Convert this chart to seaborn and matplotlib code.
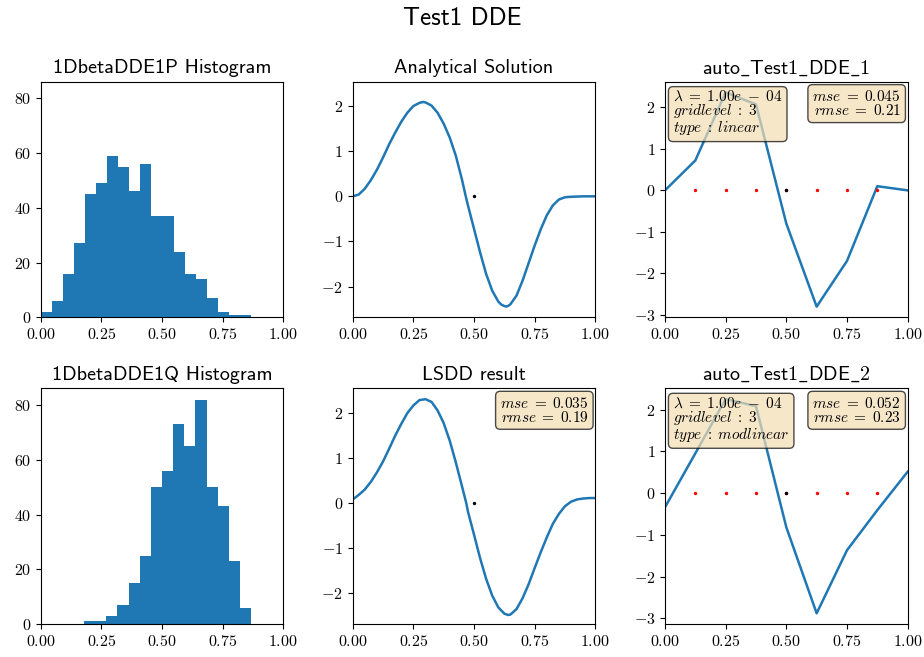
import numpy as np
import pandas as pd
import matplotlib
matplotlib.use("Agg")
import matplotlib.pyplot as plt
import seaborn as sns
from matplotlib.mathtext import MathTextParser

plt.rcParams['mathtext.fontset'] = 'cm'
plt.rcParams['axes.formatter.use_mathtext'] = True
plt.rcParams['font.family'] = ['cmr10', 'DejaVu Sans']
plt.rcParams['axes.unicode_minus'] = True

# ---------------- data ----------------
hist_p_counts = [2, 6, 16, 27, 45, 49, 59, 55, 46, 56, 37, 37, 24, 16, 14, 7, 2, 1, 1]
hist_p_range = [0.0, 0.867]
hist_q_counts = [1, 1, 3, 7, 15, 25, 50, 56, 73, 65, 82, 50, 43, 23, 6]
hist_q_range = [0.179, 0.867]

analytic_x = [0.0, 0.025, 0.05, 0.075, 0.1, 0.125, 0.15, 0.175, 0.2, 0.225, 0.25, 0.275,
              0.29, 0.3, 0.325, 0.35, 0.375, 0.4, 0.425, 0.45, 0.466, 0.475, 0.5, 0.525,
              0.55, 0.575, 0.6, 0.613, 0.625, 0.632, 0.64, 0.65, 0.675, 0.7, 0.725, 0.75,
              0.775, 0.8, 0.825, 0.85, 0.875, 0.9, 0.95, 1.0]
analytic_y = [0.0, 0.04, 0.17, 0.36, 0.59, 0.86, 1.15, 1.41, 1.65, 1.85, 2.0, 2.07,
              2.09, 2.08, 2.01, 1.85, 1.61, 1.3, 0.9, 0.38, 0.0, -0.2, -0.72, -1.24,
              -1.72, -2.09, -2.33, -2.40, -2.43, -2.44, -2.43, -2.39, -2.2, -1.87, -1.48, -1.09,
              -0.73, -0.42, -0.2, -0.07, -0.02, -0.01, 0.0, 0.0]

lsdd_x = [0.0, 0.025, 0.05, 0.075, 0.1, 0.125, 0.15, 0.175, 0.2, 0.225, 0.25, 0.275,
          0.3, 0.325, 0.35, 0.375, 0.4, 0.425, 0.45, 0.468, 0.475, 0.5, 0.525, 0.55,
          0.575, 0.6, 0.625, 0.64, 0.65, 0.675, 0.7, 0.725, 0.75, 0.775, 0.8, 0.825,
          0.85, 0.875, 0.9, 0.925, 0.95, 0.975, 1.0]
lsdd_y = [0.08, 0.18, 0.30, 0.47, 0.68, 0.92, 1.20, 1.49, 1.75, 1.99, 2.16, 2.28,
          2.30, 2.24, 2.05, 1.77, 1.38, 0.90, 0.38, 0.0, -0.19, -0.70, -1.22, -1.68,
          -2.05, -2.31, -2.45, -2.48, -2.47, -2.35, -2.11, -1.80, -1.44, -1.09, -0.76, -0.46,
          -0.24, -0.07, 0.03, 0.08, 0.10, 0.11, 0.11]

grid_x = [0.0, 0.125, 0.25, 0.375, 0.5, 0.625, 0.75, 0.875, 1.0]
auto1_y = [0.0, 0.72, 2.36, 2.07, -0.80, -2.80, -1.70, 0.10, 0.0]
auto2_y = [-0.34, 0.95, 2.25, 2.08, -0.82, -2.88, -1.37, -0.41, 0.51]

grid_pts_x = [0.125, 0.25, 0.375, 0.5, 0.625, 0.75, 0.875]
grid_pts_y = [0, 0, 0, 0, 0, 0, 0]
center_x = [0.5]
center_y = [0]

lsdd_err = ["0.035", "0.19"]
auto1_err = ["0.045", "0.21"]
auto2_err = ["0.052", "0.23"]
auto1_info = ["1.00e-04", "3", "linear"]
auto2_info = ["1.00e-04", "3", "modlinear"]

titles = ["1DbetaDDE1P Histogram", "Analytical Solution", "auto_Test1_DDE_1",
          "1DbetaDDE1Q Histogram", "LSDD result", "auto_Test1_DDE_2"]
suptitle = "Test1 DDE"

BLUE = '#1f77b4'
TITLE_FONT = ['cmss10', 'DejaVu Sans']

# check whether mathtext can typeset an underscore in sans
_use_math_us = True
try:
    MathTextParser('agg').parse(r'$\mathsf{a\_b}$', 72)
except Exception:
    _use_math_us = False


def title_text(s):
    if '_' in s and _use_math_us:
        return r'$\mathsf{' + s.replace('_', r'\_') + '}$'
    return s


fig = plt.figure(figsize=(9.24, 6.57), dpi=100)
L = [0.044, 0.3817, 0.7197]
W = 0.2626
B = [0.517, 0.0502]
H = 0.3587
axes = [[fig.add_axes([L[c], B[r], W, H]) for c in range(3)] for r in range(2)]

box = dict(boxstyle='round', facecolor='wheat', alpha=0.7, edgecolor='black')
BOXFS = 11


def hist(ax, counts, rng):
    n = len(counts)
    step = (rng[1] - rng[0]) / n
    centers = [rng[0] + step * (i + 0.5) for i in range(n)]
    df = pd.DataFrame({'x': centers, 'w': counts})
    sns.histplot(data=df, x='x', weights='w', bins=n, binrange=(rng[0], rng[1]),
                 ax=ax, color=BLUE, alpha=1.0, linewidth=0)
    ax.set_ylabel('')
    ax.set_xlabel('')
    ax.set_xlim(0, 1)
    ax.set_ylim(0, 86.1)
    ax.set_yticks([0, 20, 40, 60, 80])


def curve(ax, x, y):
    sns.lineplot(x=x, y=y, ax=ax, color=BLUE, linewidth=1.8)
    sns.scatterplot(x=center_x, y=center_y, ax=ax, color='black', s=6, linewidth=0, zorder=3)
    ax.set_xlim(0, 1)


def errbox(ax, err):
    ax.text(0.972, 0.968, r'$mse\;=\;%s$' % err[0] + '\n' + r'$rmse\;=\;%s$' % err[1],
            transform=ax.transAxes, va='top', ha='right', fontsize=BOXFS, bbox=box, zorder=5,
            linespacing=0.9)


def auto(ax, y, err, info):
    sns.lineplot(x=grid_x, y=y, ax=ax, color=BLUE, linewidth=1.8)
    sns.scatterplot(x=grid_pts_x, y=grid_pts_y, ax=ax, color='red', s=6, linewidth=0, zorder=3)
    sns.scatterplot(x=center_x, y=center_y, ax=ax, color='black', s=6, linewidth=0, zorder=3)
    ax.set_xlim(0, 1)
    ax.set_yticks([-3, -2, -1, 0, 1, 2])
    mant, expo = info[0].split('e-')
    ax.text(0.033, 0.968,
            r'$\lambda\;=\;%se\;-\;%s$' % (mant, expo) + '\n' +
            r'$gridlevel\;:\;%s$' % info[1] + '\n' + r'$type\;:\;%s$' % info[2],
            transform=ax.transAxes, va='top', ha='left', fontsize=BOXFS, bbox=box, zorder=5,
            linespacing=0.9)
    errbox(ax, err)


hist(axes[0][0], hist_p_counts, hist_p_range)
hist(axes[1][0], hist_q_counts, hist_q_range)
curve(axes[0][1], analytic_x, analytic_y)
curve(axes[1][1], lsdd_x, lsdd_y)
errbox(axes[1][1], lsdd_err)
for a in (axes[0][1], axes[1][1]):
    a.set_ylim(-2.68, 2.54)
    a.set_yticks([-2, -1, 0, 1, 2])
auto(axes[0][2], auto1_y, auto1_err, auto1_info)
auto(axes[1][2], auto2_y, auto2_err, auto2_info)

for i, ax in enumerate([axes[0][0], axes[0][1], axes[0][2], axes[1][0], axes[1][1], axes[1][2]]):
    ax.set_title(title_text(titles[i]), family=TITLE_FONT, fontsize=14.5, pad=6)
    ax.set_xticks([0, 0.25, 0.5, 0.75, 1.0])
    ax.tick_params(labelsize=11.5)
    for s in ax.spines.values():
        s.set_visible(True)
        s.set_linewidth(0.8)

fig.suptitle(suptitle, family=TITLE_FONT, fontsize=18, y=0.99)
fig.savefig('out.png', dpi=100)
